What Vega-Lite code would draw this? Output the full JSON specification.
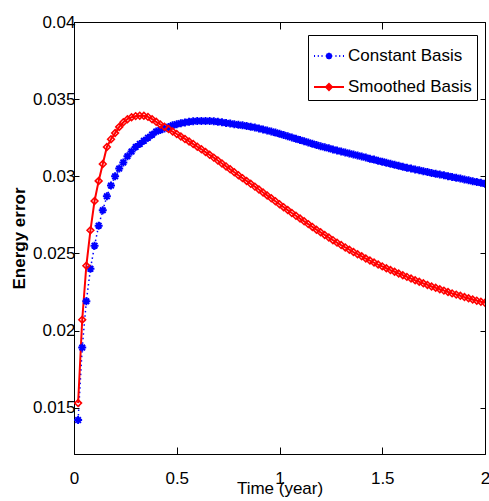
{
  "$schema": "https://vega.github.io/schema/vega-lite/v6.json",
  "width": 411,
  "height": 432,
  "autosize": {"type": "none"},
  "padding": {"left": 74, "top": 22, "right": 4, "bottom": 47},
  "background": "white",
  "config": {
    "view": {"stroke": "black", "strokeWidth": 1},
    "font": "Liberation Sans",
    "axis": {"domainColor": "black", "tickColor": "black", "labelColor": "black", "titleColor": "black", "labelFont": "Liberation Sans", "titleFont": "Liberation Sans", "labelFontSize": 17, "titleFontSize": 17, "titleFontWeight": "normal", "grid": false}
  },
  "resolve": {"axis": {"x": "independent", "y": "independent"}},
  "data": {"values": [
    {"t":0.02,"Constant Basis":0.0142,"Smoothed Basis":0.0153},
    {"t":0.04,"Constant Basis":0.0189,"Smoothed Basis":0.0207},
    {"t":0.06,"Constant Basis":0.0219,"Smoothed Basis":0.0242},
    {"t":0.08,"Constant Basis":0.0240,"Smoothed Basis":0.0265},
    {"t":0.10,"Constant Basis":0.0255,"Smoothed Basis":0.0284},
    {"t":0.12,"Constant Basis":0.0268,"Smoothed Basis":0.0297},
    {"t":0.14,"Constant Basis":0.0278,"Smoothed Basis":0.0308},
    {"t":0.16,"Constant Basis":0.0287,"Smoothed Basis":0.0319},
    {"t":0.18,"Constant Basis":0.0294,"Smoothed Basis":0.0324},
    {"t":0.20,"Constant Basis":0.0300,"Smoothed Basis":0.0328},
    {"t":0.22,"Constant Basis":0.0305,"Smoothed Basis":0.0332},
    {"t":0.24,"Constant Basis":0.0309,"Smoothed Basis":0.0335},
    {"t":0.26,"Constant Basis":0.0313,"Smoothed Basis":0.0337},
    {"t":0.28,"Constant Basis":0.0316,"Smoothed Basis":0.03383},
    {"t":0.30,"Constant Basis":0.0319,"Smoothed Basis":0.0339},
    {"t":0.32,"Constant Basis":0.0321,"Smoothed Basis":0.03393},
    {"t":0.34,"Constant Basis":0.0323,"Smoothed Basis":0.03392},
    {"t":0.36,"Constant Basis":0.0325,"Smoothed Basis":0.03385},
    {"t":0.38,"Constant Basis":0.0327,"Smoothed Basis":0.0337},
    {"t":0.40,"Constant Basis":0.0329,"Smoothed Basis":0.03353},
    {"t":0.42,"Constant Basis":0.0330,"Smoothed Basis":0.03336},
    {"t":0.44,"Constant Basis":0.0331,"Smoothed Basis":0.03321},
    {"t":0.46,"Constant Basis":0.0332,"Smoothed Basis":0.03306},
    {"t":0.48,"Constant Basis":0.0333,"Smoothed Basis":0.0329},
    {"t":0.50,"Constant Basis":0.03338,"Smoothed Basis":0.03274},
    {"t":0.52,"Constant Basis":0.03344,"Smoothed Basis":0.03258},
    {"t":0.54,"Constant Basis":0.03349,"Smoothed Basis":0.03242},
    {"t":0.56,"Constant Basis":0.03353,"Smoothed Basis":0.03226},
    {"t":0.58,"Constant Basis":0.03356,"Smoothed Basis":0.03209},
    {"t":0.60,"Constant Basis":0.03358,"Smoothed Basis":0.03192},
    {"t":0.62,"Constant Basis":0.03359,"Smoothed Basis":0.03175},
    {"t":0.64,"Constant Basis":0.03359,"Smoothed Basis":0.03157},
    {"t":0.66,"Constant Basis":0.03358,"Smoothed Basis":0.03139},
    {"t":0.68,"Constant Basis":0.03356,"Smoothed Basis":0.03121},
    {"t":0.70,"Constant Basis":0.03353,"Smoothed Basis":0.03102},
    {"t":0.72,"Constant Basis":0.0335,"Smoothed Basis":0.03083},
    {"t":0.74,"Constant Basis":0.03346,"Smoothed Basis":0.03064},
    {"t":0.76,"Constant Basis":0.03342,"Smoothed Basis":0.03045},
    {"t":0.78,"Constant Basis":0.03338,"Smoothed Basis":0.03026},
    {"t":0.80,"Constant Basis":0.03334,"Smoothed Basis":0.03007},
    {"t":0.82,"Constant Basis":0.0333,"Smoothed Basis":0.02988},
    {"t":0.84,"Constant Basis":0.03326,"Smoothed Basis":0.0297},
    {"t":0.86,"Constant Basis":0.03321,"Smoothed Basis":0.02951},
    {"t":0.88,"Constant Basis":0.03316,"Smoothed Basis":0.02933},
    {"t":0.90,"Constant Basis":0.0331,"Smoothed Basis":0.02914},
    {"t":0.92,"Constant Basis":0.03304,"Smoothed Basis":0.02895},
    {"t":0.94,"Constant Basis":0.03297,"Smoothed Basis":0.02876},
    {"t":0.96,"Constant Basis":0.0329,"Smoothed Basis":0.02857},
    {"t":0.98,"Constant Basis":0.03283,"Smoothed Basis":0.02838},
    {"t":1.00,"Constant Basis":0.03275,"Smoothed Basis":0.02819},
    {"t":1.02,"Constant Basis":0.03267,"Smoothed Basis":0.028},
    {"t":1.04,"Constant Basis":0.03259,"Smoothed Basis":0.02781},
    {"t":1.06,"Constant Basis":0.03251,"Smoothed Basis":0.02762},
    {"t":1.08,"Constant Basis":0.03243,"Smoothed Basis":0.02744},
    {"t":1.10,"Constant Basis":0.03235,"Smoothed Basis":0.02726},
    {"t":1.12,"Constant Basis":0.03227,"Smoothed Basis":0.02708},
    {"t":1.14,"Constant Basis":0.03219,"Smoothed Basis":0.0269},
    {"t":1.16,"Constant Basis":0.03211,"Smoothed Basis":0.02672},
    {"t":1.18,"Constant Basis":0.03203,"Smoothed Basis":0.02654},
    {"t":1.20,"Constant Basis":0.03195,"Smoothed Basis":0.02637},
    {"t":1.22,"Constant Basis":0.03188,"Smoothed Basis":0.0262},
    {"t":1.24,"Constant Basis":0.03181,"Smoothed Basis":0.02603},
    {"t":1.26,"Constant Basis":0.03174,"Smoothed Basis":0.02586},
    {"t":1.28,"Constant Basis":0.03167,"Smoothed Basis":0.0257},
    {"t":1.30,"Constant Basis":0.03161,"Smoothed Basis":0.02554},
    {"t":1.32,"Constant Basis":0.03154,"Smoothed Basis":0.02539},
    {"t":1.34,"Constant Basis":0.03148,"Smoothed Basis":0.02524},
    {"t":1.36,"Constant Basis":0.03141,"Smoothed Basis":0.02509},
    {"t":1.38,"Constant Basis":0.03135,"Smoothed Basis":0.02495},
    {"t":1.40,"Constant Basis":0.03128,"Smoothed Basis":0.02481},
    {"t":1.42,"Constant Basis":0.03121,"Smoothed Basis":0.02467},
    {"t":1.44,"Constant Basis":0.03114,"Smoothed Basis":0.02454},
    {"t":1.46,"Constant Basis":0.03108,"Smoothed Basis":0.02441},
    {"t":1.48,"Constant Basis":0.03101,"Smoothed Basis":0.02428},
    {"t":1.50,"Constant Basis":0.03095,"Smoothed Basis":0.02416},
    {"t":1.52,"Constant Basis":0.03088,"Smoothed Basis":0.02404},
    {"t":1.54,"Constant Basis":0.03082,"Smoothed Basis":0.02392},
    {"t":1.56,"Constant Basis":0.03075,"Smoothed Basis":0.02381},
    {"t":1.58,"Constant Basis":0.03069,"Smoothed Basis":0.0237},
    {"t":1.60,"Constant Basis":0.03062,"Smoothed Basis":0.02359},
    {"t":1.62,"Constant Basis":0.03056,"Smoothed Basis":0.02348},
    {"t":1.64,"Constant Basis":0.0305,"Smoothed Basis":0.02337},
    {"t":1.66,"Constant Basis":0.03044,"Smoothed Basis":0.02326},
    {"t":1.68,"Constant Basis":0.03039,"Smoothed Basis":0.02316},
    {"t":1.70,"Constant Basis":0.03033,"Smoothed Basis":0.02306},
    {"t":1.72,"Constant Basis":0.03028,"Smoothed Basis":0.02296},
    {"t":1.74,"Constant Basis":0.03022,"Smoothed Basis":0.02286},
    {"t":1.76,"Constant Basis":0.03017,"Smoothed Basis":0.02277},
    {"t":1.78,"Constant Basis":0.03011,"Smoothed Basis":0.02268},
    {"t":1.80,"Constant Basis":0.03006,"Smoothed Basis":0.02259},
    {"t":1.82,"Constant Basis":0.03001,"Smoothed Basis":0.0225},
    {"t":1.84,"Constant Basis":0.02995,"Smoothed Basis":0.02241},
    {"t":1.86,"Constant Basis":0.0299,"Smoothed Basis":0.02233},
    {"t":1.88,"Constant Basis":0.02985,"Smoothed Basis":0.02225},
    {"t":1.90,"Constant Basis":0.02979,"Smoothed Basis":0.02217},
    {"t":1.92,"Constant Basis":0.02974,"Smoothed Basis":0.02209},
    {"t":1.94,"Constant Basis":0.02968,"Smoothed Basis":0.02201},
    {"t":1.96,"Constant Basis":0.02963,"Smoothed Basis":0.02194},
    {"t":1.98,"Constant Basis":0.02958,"Smoothed Basis":0.02187},
    {"t":2.00,"Constant Basis":0.02952,"Smoothed Basis":0.0218}
  ]},
  "transform": [{"fold": ["Constant Basis", "Smoothed Basis"], "as": ["series", "value"]}],
  "layer": [
    {
      "transform": [{"filter": {"field": "series", "equal": "Constant Basis"}}],
      "mark": {"type": "line", "clip": true, "color": "#0000ff", "strokeDash": [1.5, 3], "strokeWidth": 1.5},
      "encoding": {
        "x": {"field": "t", "type": "quantitative", "scale": {"domain": [0, 2], "nice": false, "zero": false},
              "axis": {"orient": "bottom", "title": "Time (year)", "values": [0, 0.5, 1, 1.5, 2], "format": "~g", "tickSize": -7, "labelPadding": 23, "titlePadding": -6, "labelFlush": false}},
        "y": {"field": "value", "type": "quantitative", "scale": {"domain": [0.012, 0.04], "nice": false, "zero": false},
              "axis": {"orient": "left", "title": "Energy error", "values": [0.015, 0.02, 0.025, 0.03, 0.035, 0.04], "format": "~g", "tickSize": -5, "labelPadding": 4, "titlePadding": 4, "titleFontWeight": "bold", "labelFlush": false}}
      }
    },
    {
      "transform": [{"filter": {"field": "series", "equal": "Smoothed Basis"}}],
      "mark": {"type": "line", "clip": true, "color": "#ff0000", "strokeWidth": 2},
      "encoding": {
        "x": {"field": "t", "type": "quantitative", "axis": null},
        "y": {"field": "value", "type": "quantitative", "axis": null}
      }
    },
    {
      "transform": [{"filter": {"field": "series", "equal": "Constant Basis"}}],
      "mark": {"type": "point", "filled": false, "color": "#0000ff", "strokeWidth": 2, "size": 64, "opacity": 1, "clip": true,
               "shape": "M-1,0L1,0M0,-1L0,1M-0.7,-0.7L0.7,0.7M-0.7,0.7L0.7,-0.7"},
      "encoding": {
        "x": {"field": "t", "type": "quantitative", "axis": {"orient": "top", "title": null, "labels": false, "domain": false, "values": [0, 0.5, 1, 1.5, 2], "tickSize": -7}},
        "y": {"field": "value", "type": "quantitative", "axis": {"orient": "right", "title": null, "labels": false, "domain": false, "values": [0.015, 0.02, 0.025, 0.03, 0.035, 0.04], "tickSize": -5}}
      }
    },
    {
      "transform": [{"filter": {"field": "series", "equal": "Smoothed Basis"}}],
      "mark": {"type": "point", "filled": false, "color": "#ff0000", "strokeWidth": 1.6, "size": 45, "opacity": 1, "clip": true, "shape": "diamond"},
      "encoding": {
        "x": {"field": "t", "type": "quantitative", "axis": null},
        "y": {"field": "value", "type": "quantitative", "axis": null}
      }
    },
    {
      "transform": [{"filter": "false"}],
      "mark": {"type": "point", "filled": false, "strokeWidth": 2, "opacity": 1},
      "encoding": {
        "x": {"field": "t", "type": "quantitative", "axis": null},
        "y": {"field": "value", "type": "quantitative", "axis": null},
        "color": {"field": "series", "type": "nominal",
                  "scale": {"domain": ["Constant Basis", "Smoothed Basis"], "range": ["#0000ff", "#ff0000"]},
                  "legend": {"orient": "none", "legendX": 234, "legendY": 13, "title": null,
                             "symbolSize": 900, "symbolStrokeWidth": 2, "labelFontSize": 17, "labelFont": "Liberation Sans", "labelColor": "black",
                             "labelOffset": 3, "padding": 5, "rowPadding": 7, "strokeColor": "black", "fillColor": "white"}},
        "shape": {"field": "series", "type": "nominal",
                  "scale": {"domain": ["Constant Basis", "Smoothed Basis"],
                            "range": ["M-1,0h0.07M-0.75,0h0.07M-0.5,0h0.07M0.43,0h0.07M0.68,0h0.07M0.93,0h0.07M-0.22,0L0.22,0M0,-0.22L0,0.22M-0.16,-0.16L0.16,0.16M-0.16,0.16L0.16,-0.16",
                                      "M-1,0L1,0M0,-0.2L0.2,0L0,0.2L-0.2,0Z"]},
                  "legend": {"orient": "none", "legendX": 234, "legendY": 13, "title": null,
                             "symbolSize": 900, "symbolStrokeWidth": 2, "labelFontSize": 17, "labelFont": "Liberation Sans", "labelColor": "black",
                             "labelOffset": 3, "padding": 5, "rowPadding": 7, "strokeColor": "black", "fillColor": "white"}}
      }
    }
  ]
}
